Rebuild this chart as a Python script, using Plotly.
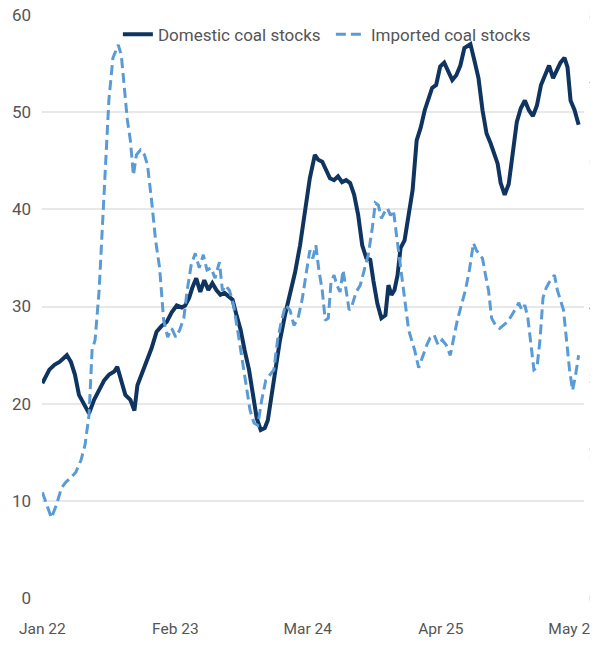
import plotly.graph_objects as go

# Domestic coal stocks (left axis)
dom_dates = [
    "2022-01-01","2022-01-22","2022-02-06","2022-02-21","2022-03-06","2022-03-15","2022-03-27",
    "2022-04-08","2022-04-20","2022-05-05","2022-05-20","2022-06-04","2022-06-19","2022-07-04",
    "2022-07-19","2022-08-03","2022-08-12","2022-08-24","2022-09-05","2022-09-20","2022-10-02",
    "2022-10-11","2022-10-23","2022-11-07","2022-11-22","2022-12-07","2022-12-22","2023-01-06",
    "2023-01-21","2023-02-05","2023-02-20","2023-03-02","2023-03-14","2023-03-23","2023-04-04",
    "2023-04-16","2023-04-28","2023-05-10","2023-05-22","2023-06-03","2023-06-15","2023-06-27",
    "2023-07-09","2023-07-21","2023-08-02","2023-08-14","2023-08-26","2023-09-08","2023-09-20",
    "2023-10-01","2023-10-13","2023-10-25","2023-11-03","2023-11-12","2023-11-24","2023-12-09",
    "2023-12-24","2024-01-08","2024-01-23","2024-02-07","2024-02-22","2024-03-07","2024-03-22",
    "2024-04-01","2024-04-13","2024-04-25","2024-05-06","2024-05-18","2024-05-30","2024-06-11",
    "2024-06-23","2024-07-05","2024-07-17","2024-07-29","2024-08-10","2024-08-22","2024-09-03",
    "2024-09-12","2024-09-24","2024-10-06","2024-10-18","2024-10-27","2024-11-05","2024-11-14",
    "2024-11-23","2024-12-02","2024-12-14","2024-12-26","2025-01-07","2025-01-19","2025-01-31",
    "2025-02-12","2025-02-24","2025-03-06","2025-03-18","2025-03-30","2025-04-11","2025-04-23",
    "2025-05-05","2025-05-17","2025-05-29","2025-06-10","2025-06-22","2025-06-28","2025-07-10",
    "2025-07-22","2025-08-03","2025-08-15","2025-08-27","2025-09-08","2025-09-17","2025-09-26",
    "2025-10-08","2025-10-20","2025-11-01","2025-11-13","2025-11-25","2025-12-07","2025-12-19",
    "2025-12-31","2026-01-12","2026-01-24","2026-02-05","2026-02-17","2026-03-01","2026-03-13",
    "2026-03-23","2026-04-04","2026-04-13","2026-04-22","2026-05-04","2026-05-16",
]
dom_values = [
    22.1, 23.5, 24.0, 24.3, 24.7, 25.0, 24.3,
    23.0, 20.9, 19.9, 19.0, 20.4, 21.4, 22.4,
    23.0, 23.3, 23.8, 22.4, 20.9, 20.4, 19.3,
    21.9, 23.0, 24.5, 25.7, 27.4, 28.0, 28.4,
    29.4, 30.1, 29.9, 30.1, 30.9, 31.9, 32.9,
    31.5, 32.7, 31.7, 32.4, 31.7, 31.2, 31.4,
    31.0, 30.7, 29.1, 27.6, 25.5, 23.5, 20.9,
    18.5, 17.3, 17.5, 18.3, 20.4, 23.0, 26.5,
    29.1, 31.2, 33.5, 36.3, 39.9, 43.2, 45.6,
    45.1, 44.9, 44.0, 43.2, 43.0, 43.4, 42.8,
    43.0, 42.7, 41.5, 39.4, 36.3, 35.0, 34.8,
    32.7, 30.3, 28.8, 29.1, 32.2, 31.2, 31.7,
    33.2, 36.0, 36.8, 39.4, 42.0, 47.1, 48.4,
    50.2, 51.4, 52.5, 52.8, 54.7, 55.1, 54.3,
    53.3, 53.8, 54.8, 56.6, 56.8, 57.0, 55.3,
    53.5, 50.2, 47.8, 46.8, 45.6, 44.7, 42.7,
    41.5, 42.6, 45.6, 49.0, 50.4, 51.2, 50.2,
    49.6, 50.7, 52.8, 53.8, 54.8, 53.5, 54.3,
    55.1, 55.6, 54.6, 51.2, 50.2, 48.7,
]

# Imported coal stocks (right axis)
imp_dates = [
    "2022-01-01","2022-01-13","2022-01-28","2022-02-12","2022-02-27","2022-03-12","2022-03-27",
    "2022-04-11","2022-04-26","2022-05-08","2022-05-20","2022-05-29","2022-06-07","2022-06-19",
    "2022-06-28","2022-07-09","2022-07-18","2022-07-30","2022-08-15","2022-08-24","2022-09-02",
    "2022-09-11","2022-09-20","2022-09-29","2022-10-08","2022-10-20","2022-11-01","2022-11-10",
    "2022-11-22","2022-12-04","2022-12-16","2022-12-28","2023-01-09","2023-01-21","2023-02-02",
    "2023-02-14","2023-02-26","2023-03-08","2023-03-20","2023-04-01","2023-04-13","2023-04-25",
    "2023-05-06","2023-05-18","2023-05-30","2023-06-12","2023-06-21","2023-06-30","2023-07-12",
    "2023-07-24","2023-08-05","2023-08-17","2023-08-29","2023-09-11","2023-09-23","2023-10-04",
    "2023-10-16","2023-10-28","2023-11-09","2023-11-21","2023-12-02","2023-12-14","2023-12-26",
    "2024-01-08","2024-01-20","2024-02-01","2024-02-13","2024-02-25","2024-03-07","2024-03-16",
    "2024-03-25","2024-04-03","2024-04-13","2024-04-22","2024-05-01","2024-05-09","2024-05-18",
    "2024-05-27","2024-06-05","2024-06-14","2024-06-23","2024-07-02","2024-07-11","2024-07-23",
    "2024-08-04","2024-08-16","2024-08-28","2024-09-09","2024-09-18","2024-09-27","2024-10-06",
    "2024-10-15","2024-10-24","2024-11-02","2024-11-11","2024-11-20","2024-12-02","2024-12-14",
    "2024-12-26","2025-01-04","2025-01-13","2025-01-25","2025-02-06","2025-02-18","2025-02-28",
    "2025-03-12","2025-03-24","2025-04-05","2025-04-17","2025-04-29","2025-05-08","2025-05-20",
    "2025-06-01","2025-06-13","2025-06-25","2025-07-07","2025-07-16","2025-07-25","2025-08-03",
    "2025-08-12","2025-08-21","2025-08-30","2025-09-11","2025-09-23","2025-10-05","2025-10-17",
    "2025-10-29","2025-11-10","2025-11-19","2025-11-28","2025-12-07","2025-12-16","2025-12-25",
    "2026-01-03","2026-01-12","2026-01-21","2026-01-30","2026-02-08","2026-02-17","2026-02-26",
    "2026-03-05","2026-03-14","2026-03-23","2026-04-01","2026-04-10","2026-04-19","2026-04-28",
    "2026-05-07","2026-05-16",
]
imp_values = [
    1.45, 1.28, 1.10, 1.28, 1.51, 1.59, 1.65,
    1.73, 1.89, 2.10, 2.51, 3.40, 3.54, 4.22,
    5.05, 6.15, 6.83, 7.41, 7.59, 7.45, 6.97,
    6.56, 6.28, 5.80, 6.08, 6.15, 6.08, 5.94,
    5.46, 4.91, 4.53, 3.81, 3.58, 3.70, 3.58,
    3.68, 3.84, 4.22, 4.57, 4.73, 4.53, 4.71,
    4.50, 4.53, 4.39, 4.61, 4.22, 4.29, 4.22,
    4.02, 3.68, 3.33, 2.92, 2.58, 2.40, 2.37,
    2.72, 2.99, 3.06, 3.13, 3.54, 3.81, 4.02,
    3.95, 3.74, 3.84, 4.09, 4.43, 4.77, 4.66,
    4.84, 4.50, 4.22, 3.81, 3.84, 4.33, 4.43,
    4.29, 4.20, 4.50, 4.22, 3.95, 4.02, 4.20,
    4.29, 4.50, 4.71, 5.08, 5.42, 5.39, 5.21,
    5.29, 5.35, 5.25, 5.32, 4.98, 4.57, 4.09,
    3.68, 3.54, 3.40, 3.16, 3.33, 3.47, 3.57,
    3.61, 3.47, 3.54, 3.47, 3.33, 3.54, 3.81,
    4.02, 4.22, 4.50, 4.87, 4.77, 4.71, 4.66,
    4.43, 4.22, 3.84, 3.74, 3.70, 3.74, 3.79,
    3.88, 3.98, 4.05, 3.95, 4.02, 3.84, 3.47,
    3.13, 3.16, 3.54, 4.12, 4.25, 4.33, 4.39,
    4.43, 4.22, 4.09, 3.95, 3.54, 3.13, 2.85,
    3.06, 3.33,
]

tick_dates = ["2022-01-01", "2023-02-01", "2024-03-01", "2025-04-01", "2026-05-01"]
tick_labels = ["Jan 22", "Feb 23", "Mar 24", "Apr 25", "May 26"]
left_ticks = [0, 10, 20, 30, 40, 50, 60]
right_ticks = [0, 1, 2, 3, 4, 5, 6, 7, 8]

FONT = "Roboto, sans-serif"
GRAY = "#555555"

fig = go.Figure()
fig.add_trace(go.Scatter(
    x=dom_dates, y=dom_values, name="Domestic coal stocks", mode="lines",
    line=dict(color="#0f3460", width=4), yaxis="y", legend="legend",
))
fig.add_trace(go.Scatter(
    x=imp_dates, y=imp_values, name="Imported coal stocks", mode="lines",
    line=dict(color="#5b9bd5", width=3, dash="10px,5px"), yaxis="y2", legend="legend2",
))

leg_common = dict(yanchor="top", y=0.997, xanchor="left",
                  bgcolor="rgba(0,0,0,0)", font=dict(size=17, color=GRAY))

fig.update_layout(
    template="none",
    width=590, height=629,
    margin=dict(l=34, r=14, t=7, b=39),
    paper_bgcolor="white", plot_bgcolor="white",
    font=dict(family=FONT, size=17, color=GRAY),
    showlegend=True,
    legend=dict(x=0.140, **leg_common),
    legend2=dict(x=0.533, **leg_common),
    xaxis=dict(
        range=["2021-12-31", "2026-06-01"], tickmode="array",
        tickvals=tick_dates, ticktext=tick_labels, showgrid=False,
        showline=False, zeroline=False, ticks="", automargin=False,
        ticklabeloverflow="allow", ticklabelstandoff=19,
        tickfont=dict(size=15.5, color=GRAY),
    ),
    yaxis=dict(
        range=[0, 60], tickmode="array", tickvals=left_ticks,
        showgrid=True, gridcolor="#e8e8e8", gridwidth=2, zeroline=False,
        showline=False, ticks="", automargin=False, ticklabelstandoff=10,
        ticklabeloverflow="allow",
        tickfont=dict(size=17, color=GRAY),
    ),
    yaxis2=dict(
        range=[0, 8], tickmode="array", tickvals=right_ticks,
        overlaying="y", side="right", showgrid=False, zeroline=False,
        showline=False, ticks="", automargin=False, ticklabelstandoff=4,
        ticklabeloverflow="allow",
        tickfont=dict(size=17, color=GRAY),
    ),
)

fig.write_html("out.html")
